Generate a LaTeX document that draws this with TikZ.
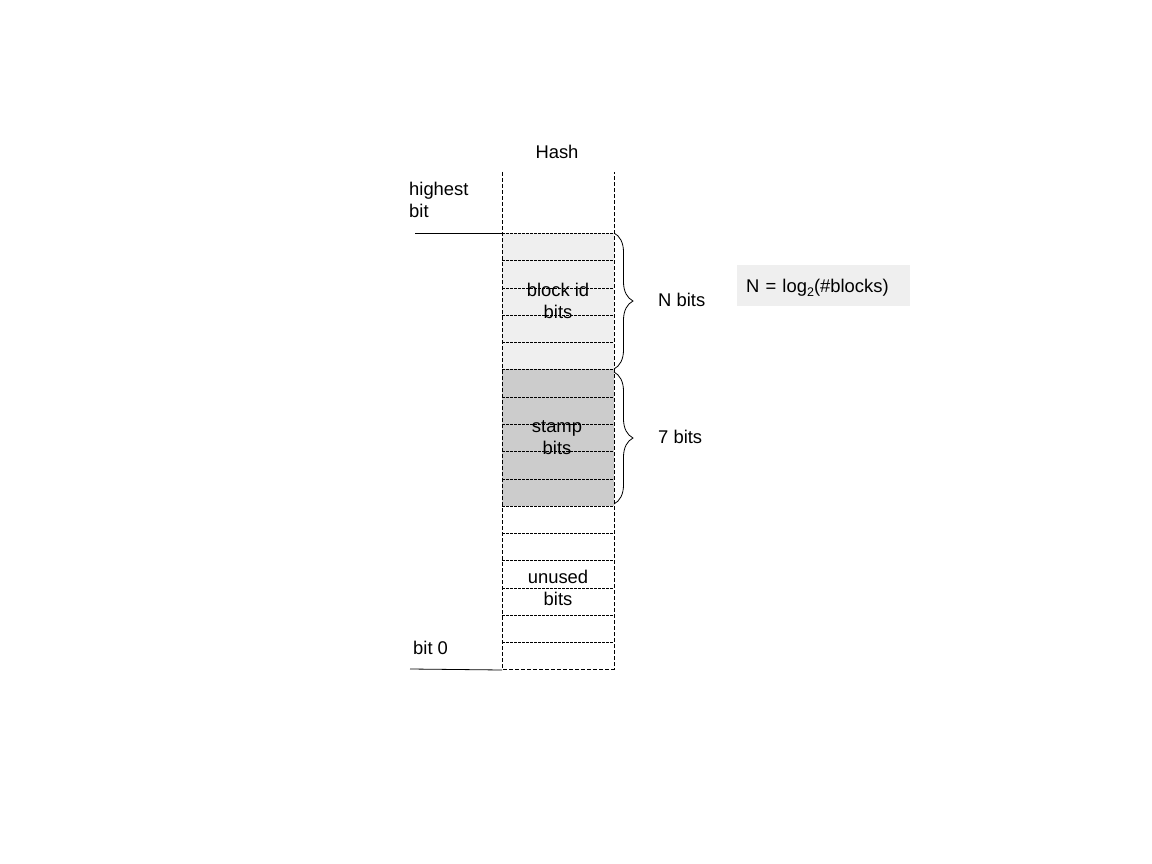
\documentclass[tikz,border=0pt]{standalone}
\usepackage{fontspec}
\setmainfont{Liberation Sans}
\usetikzlibrary{decorations.pathreplacing}
\definecolor{idgray}{HTML}{EFEFEF}
\definecolor{stampgray}{HTML}{CCCCCC}
\tikzset{
  lbl/.style={font=\fontsize{18.4}{22}\selectfont, align=center, inner sep=0pt},
  bitline/.style={dash pattern=on 2.5pt off 1.5pt, line width=0.6pt},
  colline/.style={dash pattern=on 4pt off 2pt, line width=0.8pt},
  bracket/.style={decorate, decoration={brace, amplitude=19pt}, line width=0.8pt}
}
\newcommand{\lowsub}[1]{\raisebox{-0.45ex}{\fontsize{12.5}{12.5}\selectfont #1}}
\begin{document}
\begin{tikzpicture}[x=1pt, y=-1pt]
  \useasboundingbox (0,0) rectangle (1152,864);
  % fields
  \fill[idgray] (502,233) rectangle (614,369);
  \fill[stampgray] (502,369) rectangle (614,506);
  % bit rows
  \foreach \y in {233,260,288,315,342,369,397,424,451,479,506,533,560,588,615,642}
    \draw[bitline] (502,\y) -- (614,\y);
  % hash column
  \draw[colline] (502,172) -- (502,669) -- (614,669) -- (614,172);

  \node[lbl] (hash) at (557,152) {Hash};
  \node[lbl, anchor=west, align=left] (high) at (409,200) {highest\\bit};
  \node[lbl, anchor=west] (low) at (413,648) {bit 0};
  \coordinate (hightop) at (415,233);
  \coordinate (colTop) at (502,233);
  \coordinate (lowend) at (410,669);
  \coordinate (colBot) at (502,670);
  \draw[line width=0.8pt] (hightop) -- (colTop);
  \draw[line width=0.8pt] (lowend) -- (colBot);

  \node[lbl] (blockid) at (558,301) {block id\\bits};
  \node[lbl] (stamp) at (557,438) {stamp\\bits};
  \node[lbl] (unused) at (558,588) {unused\\bits};

  % braces
  \coordinate (nTop) at (614,233);
  \coordinate (nBot) at (614,369);
  \coordinate (sTop) at (614,372);
  \coordinate (sBot) at (614,504);
  \draw[bracket] (nTop) -- (nBot);
  \draw[bracket] (sTop) -- (sBot);
  \node[lbl, anchor=west] (nbits) at (658,300) {N bits};
  \node[lbl, anchor=west] (sbits) at (658,437) {7 bits};

  \node[lbl, anchor=west, fill=idgray, inner xsep=9pt, text width=155pt,
        align=left, minimum height=41pt, text height=16pt, text depth=3pt]
        (formula) at (737,285.5) {N = log\lowsub{2}(\#blocks)};
\end{tikzpicture}
\end{document}
